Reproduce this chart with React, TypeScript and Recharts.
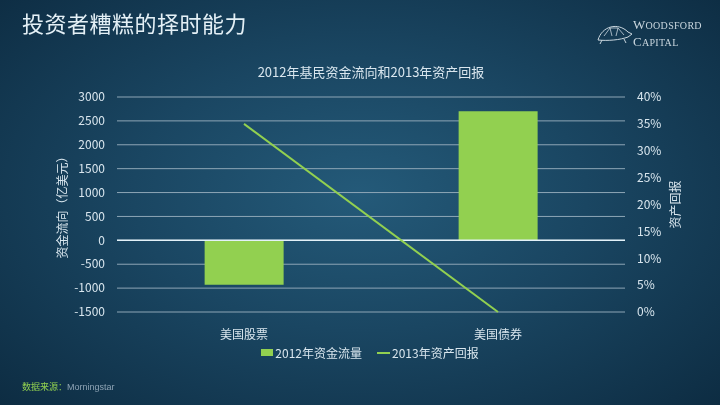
import React from "react"
import {
  ComposedChart,
  Bar,
  Line,
  XAxis,
  YAxis,
  CartesianGrid,
  ReferenceLine,
} from "recharts"

// categories and series
const categories = ["美国股票", "美国债券"]
const flow2012 = [-930, 2700] // 亿美元
const return2013 = [0.35, 0] // 资产回报

const leftTicks = [-1500, -1000, -500, 0, 500, 1000, 1500, 2000, 2500, 3000]
const rightTicks = [0, 0.05, 0.1, 0.15, 0.2, 0.25, 0.3, 0.35, 0.4]

const data = categories.map((name, i) => ({
  name,
  flow: flow2012[i],
  ret: return2013[i],
}))

const GREEN = "#92d050"
const TEXT = "#d9e6ee"
const FONT = '"Noto Sans CJK SC", "Noto Sans", sans-serif'

function LegendBox() {
  return (
    <div
      style={{
        position: "absolute",
        left: 0,
        top: 344,
        width: 720,
        display: "flex",
        justifyContent: "center",
        alignItems: "center",
        fontSize: 12,
        color: TEXT,
        fontFamily: FONT,
        paddingLeft: 20,
        boxSizing: "border-box",
      }}
    >
      <span style={{ display: "inline-block", width: 12, height: 7, background: GREEN, marginRight: 2 }} />
      <span>2012年资金流量</span>
      <span style={{ display: "inline-block", width: 13, height: 2, background: GREEN, marginLeft: 15, marginRight: 2 }} />
      <span>2013年资产回报</span>
    </div>
  )
}

export default function App() {
  return (
    <div
      style={{
        position: "fixed",
        left: 0,
        top: 0,
        width: 720,
        height: 405,
        overflow: "hidden",
        background:
          "radial-gradient(ellipse 70% 75% at 50% 48%, #245a79 0%, #1a4662 45%, #0d2c42 100%)",
        fontFamily: FONT,
      }}
    >
      {/* slide title */}
      <div style={{ position: "absolute", left: 22, top: 6, fontSize: 22, color: "#e4f0f6", letterSpacing: 0.5 }}>
        投资者糟糕的择时能力
      </div>

      {/* logo */}
      <svg style={{ position: "absolute", left: 594, top: 18 }} width={40} height={28}>
        <path
          d="M4 22 C8 8, 24 4, 34 14 L38 16 L34 19 C26 22, 14 23, 4 22 Z"
          fill="none"
          stroke="#c9d6de"
          strokeWidth={1}
        />
        <path d="M10 18 L16 10 L24 10 L30 17 M16 10 L18 18 M24 10 L22 18" stroke="#c9d6de" strokeWidth={0.8} fill="none" />
        <path d="M8 22 L6 26 M30 21 L32 25" stroke="#c9d6de" strokeWidth={1} />
      </svg>
      <div
        style={{
          position: "absolute",
          left: 633,
          top: 17,
          fontFamily: '"Liberation Serif", serif',
          fontSize: 10,
          color: "#c9d6de",
          lineHeight: "16px",
          letterSpacing: 0.3,
        }}
      >
        <div>
          <span style={{ fontSize: 13 }}>W</span>OODSFORD
        </div>
        <div>
          <span style={{ fontSize: 13 }}>C</span>APITAL
        </div>
      </div>

      {/* chart title */}
      <div
        style={{
          position: "absolute",
          left: 117,
          width: 508,
          top: 62,
          textAlign: "center",
          fontSize: 13,
          color: TEXT,
        }}
      >
        2012年基民资金流向和2013年资产回报
      </div>

      <ComposedChart
        width={720}
        height={405}
        data={data}
        margin={{ top: 97, right: 0, bottom: 63, left: 0 }}
        barCategoryGap="34.5%"
      >
        <CartesianGrid yAxisId="left" vertical={false} stroke="#8ea6b6" strokeWidth={1} />
        <XAxis
          dataKey="name"
          axisLine={false}
          tickLine={false}
          height={30}
          tick={{ fill: TEXT, fontSize: 12, fontFamily: FONT }}
          tickMargin={12}
          interval={0}
        />
        <YAxis
          yAxisId="left"
          width={117}
          domain={[-1500, 3000]}
          ticks={leftTicks}
          axisLine={false}
          tickLine={false}
          tickMargin={6}
          tick={{ fill: TEXT, fontSize: 12, fontFamily: FONT }}
          label={{
            value: "资金流向（亿美元）",
            angle: -90,
            position: "center",
            dx: 4,
            fill: TEXT,
            fontSize: 12,
            fontFamily: FONT,
          }}
        />
        <YAxis
          yAxisId="right"
          orientation="right"
          width={95}
          domain={[0, 0.4]}
          ticks={rightTicks}
          axisLine={false}
          tickLine={false}
          tickMargin={6}
          tickFormatter={(v: number) => `${Math.round(v * 100)}%`}
          tick={{ fill: TEXT, fontSize: 12, fontFamily: FONT }}
          label={{
            value: "资产回报",
            angle: -90,
            position: "center",
            dx: 3,
            fill: TEXT,
            fontSize: 12,
            fontFamily: FONT,
          }}
        />
        <ReferenceLine yAxisId="left" y={0} stroke="#e3f1f8" strokeWidth={1.5} />
        <Bar
          yAxisId="left"
          dataKey="flow"
          name="2012年资金流量"
          fill={GREEN}
          isAnimationActive={false}
        />
        <Line
          yAxisId="right"
          dataKey="ret"
          name="2013年资产回报"
          stroke={GREEN}
          strokeWidth={2}
          dot={false}
          activeDot={false}
          type="linear"
          isAnimationActive={false}
        />
      </ComposedChart>

      <LegendBox />

      {/* source */}
      <div style={{ position: "absolute", left: 22, top: 380, fontSize: 9 }}>
        <span style={{ color: GREEN }}>数据来源：</span>
        <span style={{ color: "#8ea3b4", fontFamily: '"Liberation Sans", sans-serif' }}>Morningstar</span>
      </div>
    </div>
  )
}
